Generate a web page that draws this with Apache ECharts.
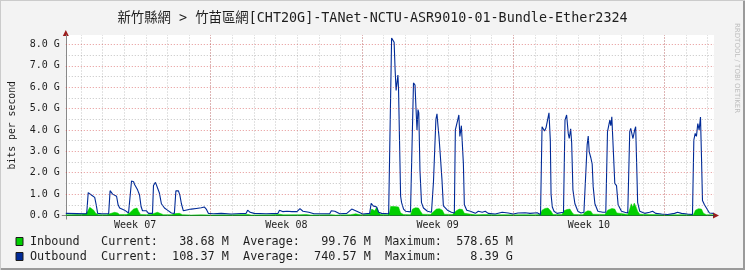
<!DOCTYPE html>
<html><head><meta charset="utf-8">
<script src="https://cdn.jsdelivr.net/npm/echarts@6/dist/echarts.min.js"></script>
<style>html,body{margin:0;padding:0;background:#f3f3f3}#c{width:745px;height:270px}</style>
</head><body><div id="c"></div><script>
// ---- data (time in hours from the left edge of the graph, values in Gbit/s) ----
const titleText = '新竹縣網 > 竹苗區網[CHT20G]-TANet-NCTU-ASR9010-01-Bundle-Ether2324';
const yTicks = [0, 1, 2, 3, 4, 5, 6, 7, 8];
const weekCenters = [77, 245, 413, 581];
const weekLabels = ['Week 07', 'Week 08', 'Week 09', 'Week 10'];
const weekStarts = [161, 329, 497, 665];
const firstMidnight = 17;

const inT = [0,6.6,15.5,22.1,24.3,26.6,28.8,31.0,33.2,36.5,45.4,48.7,50.9,54.2,57.5,59.8,67.5,70.8,73.0,75.3,77.5,79.1,80.8,83.0,89.6,95.2,97.4,101.8,104.0,108.5,117.3,121.7,126.2,129.5,139.4,150.5,161.6,183.7,202.5,205.9,228.0,238.0,241.3,261.2,266.7,272.2,294.4,299.9,316.5,322.0,327.6,333.1,337.5,339.8,343.1,345.3,347.5,349.7,357.5,359.7,360.8,363.0,365.2,367.4,369.6,371.9,375.2,382.9,385.1,388.4,391.8,394.0,396.2,405.1,408.4,411.7,415.0,418.3,420.5,429.4,433.8,437.1,440.5,442.7,444.9,454.9,465.9,477.0,488.1,499.1,510.2,521.3,526.8,529.0,532.3,535.6,539.0,541.2,551.1,553.4,556.7,560.0,562.2,564.4,574.4,576.6,579.9,583.2,585.4,598.7,602.0,606.5,609.8,612.0,614.2,624.2,626.4,628.1,629.7,631.4,633.0,635.2,637.5,648.5,659.6,670.7,687.3,697.2,699.4,702.7,706.1,708.3,711.6,719.4];
const inV = [0.03,0.04,0.05,0.08,0.20,0.38,0.30,0.25,0.10,0.04,0.04,0.08,0.17,0.15,0.12,0.05,0.05,0.12,0.18,0.30,0.28,0.35,0.20,0.05,0.04,0.06,0.14,0.15,0.08,0.04,0.04,0.09,0.10,0.04,0.02,0.03,0.02,0.03,0.05,0.02,0.03,0.06,0.03,0.04,0.05,0.02,0.04,0.02,0.04,0.08,0.03,0.05,0.06,0.30,0.22,0.38,0.15,0.05,0.04,0.15,0.42,0.49,0.42,0.45,0.40,0.12,0.05,0.04,0.30,0.36,0.35,0.20,0.06,0.05,0.18,0.30,0.32,0.25,0.06,0.05,0.22,0.30,0.28,0.10,0.05,0.03,0.05,0.03,0.04,0.03,0.04,0.03,0.05,0.25,0.33,0.35,0.20,0.05,0.05,0.22,0.28,0.30,0.15,0.05,0.04,0.15,0.22,0.20,0.06,0.05,0.25,0.33,0.30,0.12,0.05,0.05,0.30,0.55,0.40,0.58,0.45,0.20,0.06,0.05,0.04,0.03,0.04,0.05,0.25,0.32,0.30,0.10,0.04,0.04];

const outT = [0,12.2,23.2,24.9,27.1,28.8,30.4,32.1,33.8,35.4,39.8,47.6,49.2,50.9,52.0,54.2,56.4,58.1,59.8,62.0,65.3,69.7,71.9,73.0,75.3,76.4,77.5,79.7,81.9,83.6,85.2,87.4,89.6,91.9,96.3,97.4,99.6,101.8,104.0,106.2,109.6,112.9,117.3,120.6,122.3,125.1,126.7,128.4,130.6,132.8,139.4,145.0,150.5,153.8,156.0,158.3,163.8,172.6,183.7,194.8,200.3,202.0,204.7,209.2,222.4,235.7,237.4,241.3,245.7,251.2,256.8,260.1,263.4,270.0,275.6,283.3,293.3,294.9,298.8,304.3,312.1,317.6,323.2,329.8,337.5,339.2,341.4,343.1,345.3,347.5,350.8,358.6,360.8,361.9,363.0,364.7,365.8,366.9,367.8,368.9,369.6,370.7,371.9,373.0,375.2,377.4,382.9,385.1,386.2,387.9,389.0,390.1,391.2,392.1,393.4,395.1,397.3,401.7,406.2,407.3,408.4,410.0,411.1,412.3,413.4,414.5,416.1,417.8,419.4,423.9,428.3,431.6,432.7,434.9,435.5,436.6,437.7,439.4,440.5,441.6,442.7,445.4,449.3,454.9,458.2,462.6,465.9,469.2,477.0,484.7,491.4,496.9,502.4,510.2,515.7,523.5,525.7,527.3,529.0,531.8,533.4,534.5,536.7,538.2,539.0,540.4,542.3,545.6,552.8,554.5,556.3,558.1,559.2,560.8,561.9,563.3,565.5,568.8,572.2,575.5,576.6,578.0,579.1,580.3,581.4,583.2,584.7,585.8,587.7,591.0,596.5,599.8,601.7,603.1,604.3,605.4,606.5,607.9,609.8,611.7,613.5,617.2,620.9,624.2,625.3,626.4,627.5,629.0,630.0,631.9,633.0,634.1,635.2,637.5,643.0,648.5,651.8,655.2,661.8,668.4,676.2,679.5,683.9,690.6,696.1,697.6,699.1,700.5,702.0,703.5,705.0,706.1,707.2,709.4,711.6,714.9,719.4];
const outV = [0.10,0.09,0.08,1.07,1.05,0.95,1.00,0.85,0.50,0.10,0.08,0.08,1.16,1.14,1.00,0.95,0.90,0.50,0.35,0.30,0.25,0.12,0.10,1.61,1.58,1.45,1.50,1.20,0.96,0.42,0.22,0.13,0.22,0.10,0.10,1.40,1.55,1.50,1.05,0.55,0.35,0.25,0.12,0.10,1.16,1.15,0.95,0.55,0.22,0.30,0.30,0.33,0.36,0.40,0.30,0.10,0.08,0.10,0.07,0.09,0.10,0.25,0.15,0.10,0.08,0.10,0.25,0.18,0.20,0.18,0.18,0.32,0.20,0.15,0.08,0.08,0.09,0.22,0.20,0.08,0.10,0.30,0.20,0.07,0.10,0.57,0.45,0.52,0.40,0.15,0.10,0.08,0.10,8.30,8.39,8.10,6.80,5.85,5.80,6.57,5.90,3.50,0.90,0.60,0.30,0.20,0.17,0.20,6.20,6.10,5.00,4.00,4.95,4.80,2.10,0.60,0.35,0.20,0.15,0.17,1.58,1.60,4.50,4.75,4.20,3.70,2.75,1.70,0.45,0.25,0.15,0.12,4.00,4.05,4.50,4.70,3.70,4.20,4.22,2.45,0.50,0.25,0.20,0.10,0.20,0.15,0.20,0.10,0.07,0.15,0.12,0.07,0.12,0.13,0.10,0.13,0.15,0.05,4.15,3.95,4.10,4.15,4.80,3.50,1.00,0.40,0.20,0.10,0.15,4.46,4.70,3.84,3.60,4.05,3.40,1.20,0.55,0.20,0.12,0.15,1.11,1.20,3.30,3.71,2.98,2.70,2.40,1.35,0.55,0.20,0.15,0.15,3.92,4.00,4.46,4.20,4.62,4.58,1.50,1.40,0.50,0.20,0.15,0.12,0.15,3.92,4.07,4.00,3.60,4.00,4.15,2.40,0.60,0.20,0.10,0.15,0.20,0.10,0.07,0.05,0.10,0.15,0.10,0.07,0.05,3.53,3.84,3.70,4.30,4.00,4.60,2.75,0.70,0.50,0.35,0.12,0.10];

const legendNames = ['Inbound', 'Outbound'];
const legendColors = ['#00cf00', '#002a97'];
const legendCurrent = ['38.68 M', '108.37 M'];
const legendAverage = ['99.76 M', '740.57 M'];
const legendMaximum = ['578.65 M', '8.39 G'];

// ---- chart ----
const xMax = 720, yMax = 8.44;
const mono = '"DejaVu Sans Mono", "Noto Sans CJK TC", monospace';
const zip = (a, b) => a.map((t, i) => [t, b[i]]);

const gridLines = [];
for (let v = 0.5; v <= 8; v += 1) gridLines.push({ yAxis: v, lineStyle: { color: 'rgba(140,140,140,0.5)' } });
for (let t = firstMidnight; t < xMax; t += 24) gridLines.push({ xAxis: t, lineStyle: { color: 'rgba(140,140,140,0.5)' } });
for (let v = 1; v <= 8; v += 1) gridLines.push({ yAxis: v, lineStyle: { color: 'rgba(210,60,60,0.55)' } });
weekStarts.forEach(t => gridLines.push({ xAxis: t, lineStyle: { color: 'rgba(210,60,60,0.55)' } }));

const chart = echarts.init(document.getElementById('c'), null, { renderer: 'canvas' });
const legendGraphics = [];
legendNames.forEach((n, i) => {
  const y = 241.5 + i * 15;
  legendGraphics.push({ type: 'rect', shape: { x: 16, y: y - 4, width: 7, height: 8 },
    style: { fill: legendColors[i], stroke: '#1a1a1a', lineWidth: 1 } });
  const line = n.padEnd(10) + 'Current:' + legendCurrent[i].padStart(10) +
    '  Average:' + legendAverage[i].padStart(10) + '  Maximum:' + legendMaximum[i].padStart(10);
  legendGraphics.push({ type: 'text', x: 30, y: y,
    style: { text: line, font: '11.8px ' + mono, fill: '#1e1e1e', textVerticalAlign: 'middle', verticalAlign: 'middle' } });
});

chart.setOption({
  animation: false,
  backgroundColor: '#f3f3f3',
  title: { text: titleText, left: 'center', top: 7,
    textStyle: { fontFamily: mono, fontSize: 13.4, fontWeight: 'normal', color: '#1e1e1e' } },
  grid: { left: 64, right: 31, top: 35, bottom: 54.5, show: true, backgroundColor: '#ffffff', borderWidth: 0 },
  xAxis: { type: 'value', min: 0, max: xMax,
    axisLine: { show: true, lineStyle: { color: '#2c4d43', width: 1 } },
    axisTick: { show: true, customValues: [0], length: 4, lineStyle: { color: '#888' } },
    splitLine: { show: false },
    axisLabel: { customValues: weekCenters, margin: 5, fontFamily: mono, fontSize: 10, color: '#1e1e1e',
      formatter: v => weekLabels[weekCenters.indexOf(v)] || '' } },
  yAxis: { type: 'value', min: 0, max: yMax,
    name: 'bits per second', nameLocation: 'middle', nameRotate: 90, nameGap: 48,
    nameTextStyle: { fontFamily: mono, fontSize: 9.8, color: '#1e1e1e' },
    axisLine: { show: true, lineStyle: { color: '#888', width: 1 } },
    axisTick: { show: true, customValues: [0], length: 4, lineStyle: { color: '#888' } },
    splitLine: { show: false },
    axisLabel: { customValues: yTicks, margin: 6, fontFamily: mono, fontSize: 10, color: '#1e1e1e',
      formatter: v => v.toFixed(1) + ' G' } },
  series: [
    { name: 'grid', type: 'line', data: [], z: 1, silent: true,
      markLine: { silent: true, symbol: 'none', animation: false, label: { show: false },
        lineStyle: { type: [1, 2], width: 1 }, emphasis: { disabled: true }, data: gridLines } },
    { name: legendNames[0], type: 'line', data: zip(inT, inV), z: 2, showSymbol: false, symbol: 'none',
      lineStyle: { width: 0.5, color: '#00cf00' }, areaStyle: { color: '#00cf00', opacity: 1 } },
    { name: legendNames[1], type: 'line', data: zip(outT, outV), z: 3, showSymbol: false, symbol: 'none',
      lineStyle: { width: 1.1, color: '#002a97' } }
  ],
  graphic: legendGraphics
});

const pTop = chart.convertToPixel({ gridIndex: 0 }, [0, yMax]);
const pRight = chart.convertToPixel({ gridIndex: 0 }, [xMax, 0]);
chart.setOption({ graphic: legendGraphics.concat([
  { type: 'polygon', shape: { points: [[pTop[0] - 3, pTop[1] + 1], [pTop[0] + 3, pTop[1] + 1], [pTop[0], pTop[1] - 5]] },
    style: { fill: '#9c1c1c' } },
  { type: 'polygon', shape: { points: [[pRight[0] - 1, pRight[1] - 3], [pRight[0] - 1, pRight[1] + 3], [pRight[0] + 5, pRight[1]]] },
    style: { fill: '#9c1c1c' } },
  { type: 'text', x: 737, y: 23, rotation: -Math.PI / 2,
    style: { text: 'RRDTOOL / TOBI OETIKER', font: '7px "DejaVu Sans"', fill: '#bdbdbd', verticalAlign: 'middle', textVerticalAlign: 'middle' } },
  { type: 'rect', shape: { x: 0, y: 268, width: 745, height: 2 }, style: { fill: '#9a9a9a' } },
  { type: 'rect', shape: { x: 743, y: 0, width: 2, height: 270 }, style: { fill: '#9a9a9a' } },
  { type: 'rect', shape: { x: 0, y: 0, width: 745, height: 1 }, style: { fill: '#cbcbcb' } },
  { type: 'rect', shape: { x: 0, y: 0, width: 1, height: 270 }, style: { fill: '#cbcbcb' } }
]) });
</script></body></html>
